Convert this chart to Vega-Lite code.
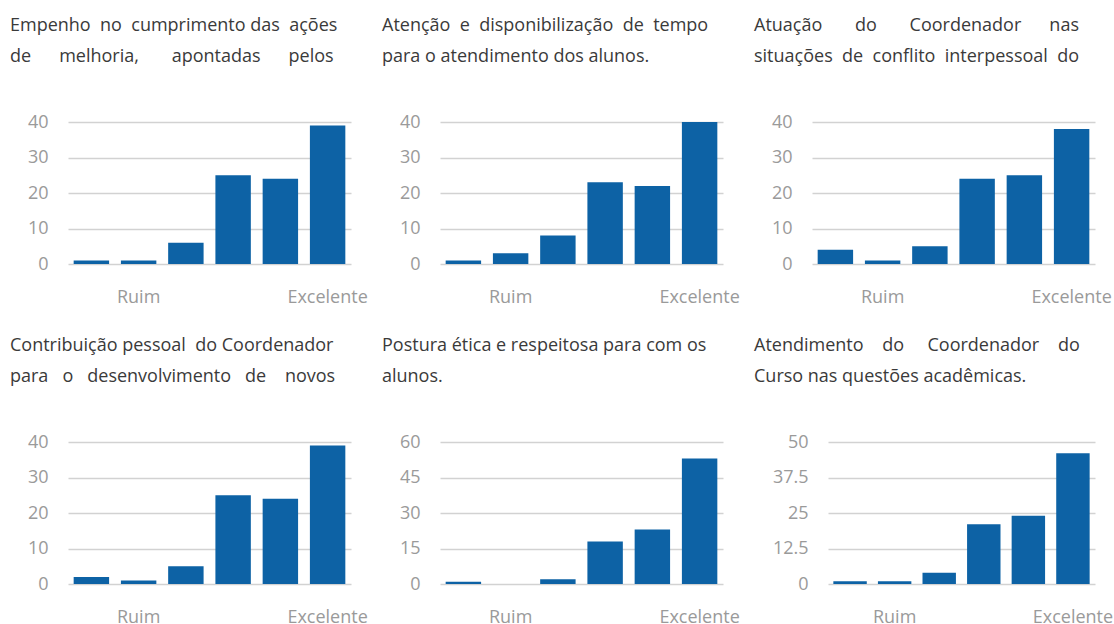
{
  "$schema": "https://vega.github.io/schema/vega-lite/v6.json",
  "background": "white",
  "padding": {"left": 10, "top": 17, "right": 0, "bottom": 0},
  "data": {"values": [
    {"painel": "p1", "nota": 1, "valor": 1},
    {"painel": "p1", "nota": 2, "valor": 1},
    {"painel": "p1", "nota": 3, "valor": 6},
    {"painel": "p1", "nota": 4, "valor": 25},
    {"painel": "p1", "nota": 5, "valor": 24},
    {"painel": "p1", "nota": 6, "valor": 39},
    {"painel": "p2", "nota": 1, "valor": 1},
    {"painel": "p2", "nota": 2, "valor": 3},
    {"painel": "p2", "nota": 3, "valor": 8},
    {"painel": "p2", "nota": 4, "valor": 23},
    {"painel": "p2", "nota": 5, "valor": 22},
    {"painel": "p2", "nota": 6, "valor": 40},
    {"painel": "p3", "nota": 1, "valor": 4},
    {"painel": "p3", "nota": 2, "valor": 1},
    {"painel": "p3", "nota": 3, "valor": 5},
    {"painel": "p3", "nota": 4, "valor": 24},
    {"painel": "p3", "nota": 5, "valor": 25},
    {"painel": "p3", "nota": 6, "valor": 38},
    {"painel": "p4", "nota": 1, "valor": 2},
    {"painel": "p4", "nota": 2, "valor": 1},
    {"painel": "p4", "nota": 3, "valor": 5},
    {"painel": "p4", "nota": 4, "valor": 25},
    {"painel": "p4", "nota": 5, "valor": 24},
    {"painel": "p4", "nota": 6, "valor": 39},
    {"painel": "p5", "nota": 1, "valor": 1},
    {"painel": "p5", "nota": 2, "valor": 0},
    {"painel": "p5", "nota": 3, "valor": 2},
    {"painel": "p5", "nota": 4, "valor": 18},
    {"painel": "p5", "nota": 5, "valor": 23},
    {"painel": "p5", "nota": 6, "valor": 53},
    {"painel": "p6", "nota": 1, "valor": 1},
    {"painel": "p6", "nota": 2, "valor": 1},
    {"painel": "p6", "nota": 3, "valor": 4},
    {"painel": "p6", "nota": 4, "valor": 21},
    {"painel": "p6", "nota": 5, "valor": 24},
    {"painel": "p6", "nota": 6, "valor": 46}
  ]},
  "config": {
    "font": "Open Sans",
    "view": {"stroke": null},
    "title": {"font": "Open Sans", "fontSize": 18, "fontWeight": "normal", "color": "#3a3a3a", "lineHeight": 31, "anchor": "start", "frame": "group", "offset": 47},
    "axis": {"labelFont": "Open Sans", "labelFontSize": 18, "labelColor": "#9a9a9a", "domain": false, "ticks": false, "title": null, "gridColor": "#d2d2d2", "gridWidth": 1.6},
    "axisX": {"labelAngle": 0, "labelPadding": 24, "labelExpr": "datum.value == 2 ? 'Ruim' : datum.value == 6 ? 'Excelente' : ''"},
    "axisY": {"labelPadding": 20, "format": ".1~f"},
    "bar": {"color": "#0d62a5"},
    "scale": {"bandPaddingInner": 0.25, "bandPaddingOuter": 0.12}
  },
  "spacing": 320,
  "bounds": "flush",
  "vconcat": [
    {
      "spacing": 89,
      "bounds": "flush",
      "hconcat": [
        {
          "title": {"text": ["Empenho \u00a0no \u00a0cumprimento das \u00a0ações", "de \u00a0\u00a0\u00a0\u00a0\u00a0melhoria, \u00a0\u00a0\u00a0\u00a0\u00a0\u00a0apontadas \u00a0\u00a0\u00a0\u00a0\u00a0pelos"], "dx": -58},
          "width": 283, "height": 142,
          "transform": [{"filter": "datum.painel == 'p1'"}],
          "mark": "bar",
          "encoding": {
            "x": {"field": "nota", "type": "ordinal"},
            "y": {"field": "valor", "type": "quantitative", "scale": {"domain": [0, 40], "nice": false}, "axis": {"values": [0, 10, 20, 30, 40]}}
          }
        },
        {
          "title": {"text": ["Atenção \u00a0e \u00a0disponibilização \u00a0de \u00a0tempo", "para o atendimento dos alunos."], "dx": -58},
          "width": 283, "height": 142,
          "transform": [{"filter": "datum.painel == 'p2'"}],
          "mark": "bar",
          "encoding": {
            "x": {"field": "nota", "type": "ordinal"},
            "y": {"field": "valor", "type": "quantitative", "scale": {"domain": [0, 40], "nice": false}, "axis": {"values": [0, 10, 20, 30, 40]}}
          }
        },
        {
          "title": {"text": ["Atuação \u00a0\u00a0\u00a0\u00a0\u00a0\u00a0do \u00a0\u00a0\u00a0\u00a0\u00a0\u00a0Coordenador \u00a0\u00a0\u00a0\u00a0\u00a0nas", "situações \u00a0de \u00a0conflito \u00a0interpessoal \u00a0do"], "dx": -58},
          "width": 283, "height": 142,
          "transform": [{"filter": "datum.painel == 'p3'"}],
          "mark": "bar",
          "encoding": {
            "x": {"field": "nota", "type": "ordinal"},
            "y": {"field": "valor", "type": "quantitative", "scale": {"domain": [0, 40], "nice": false}, "axis": {"values": [0, 10, 20, 30, 40]}}
          }
        }
      ]
    },
    {
      "spacing": 89,
      "bounds": "flush",
      "hconcat": [
        {
          "title": {"text": ["Contribuição pessoal \u00a0do Coordenador", "para \u00a0\u00a0o \u00a0\u00a0desenvolvimento \u00a0\u00a0de \u00a0\u00a0\u00a0novos"], "dx": -58},
          "width": 283, "height": 142,
          "transform": [{"filter": "datum.painel == 'p4'"}],
          "mark": "bar",
          "encoding": {
            "x": {"field": "nota", "type": "ordinal"},
            "y": {"field": "valor", "type": "quantitative", "scale": {"domain": [0, 40], "nice": false}, "axis": {"values": [0, 10, 20, 30, 40]}}
          }
        },
        {
          "spacing": 105,
          "bounds": "flush",
          "hconcat": [
            {
              "title": {"text": ["Postura ética e respeitosa para com os", "alunos."], "dx": -58},
              "width": 283, "height": 142,
              "transform": [{"filter": "datum.painel == 'p5'"}],
              "mark": "bar",
              "encoding": {
                "x": {"field": "nota", "type": "ordinal"},
                "y": {"field": "valor", "type": "quantitative", "scale": {"domain": [0, 60], "nice": false}, "axis": {"values": [0, 15, 30, 45, 60]}}
              }
            },
            {
              "title": {"text": ["Atendimento \u00a0\u00a0\u00a0do \u00a0\u00a0\u00a0\u00a0Coordenador \u00a0\u00a0\u00a0do", "Curso nas questões acadêmicas."], "dx": -74},
              "width": 267, "height": 142,
              "transform": [{"filter": "datum.painel == 'p6'"}],
              "mark": "bar",
              "encoding": {
                "x": {"field": "nota", "type": "ordinal"},
                "y": {"field": "valor", "type": "quantitative", "scale": {"domain": [0, 50], "nice": false}, "axis": {"values": [0, 12.5, 25, 37.5, 50]}}
              }
            }
          ]
        }
      ]
    }
  ]
}
